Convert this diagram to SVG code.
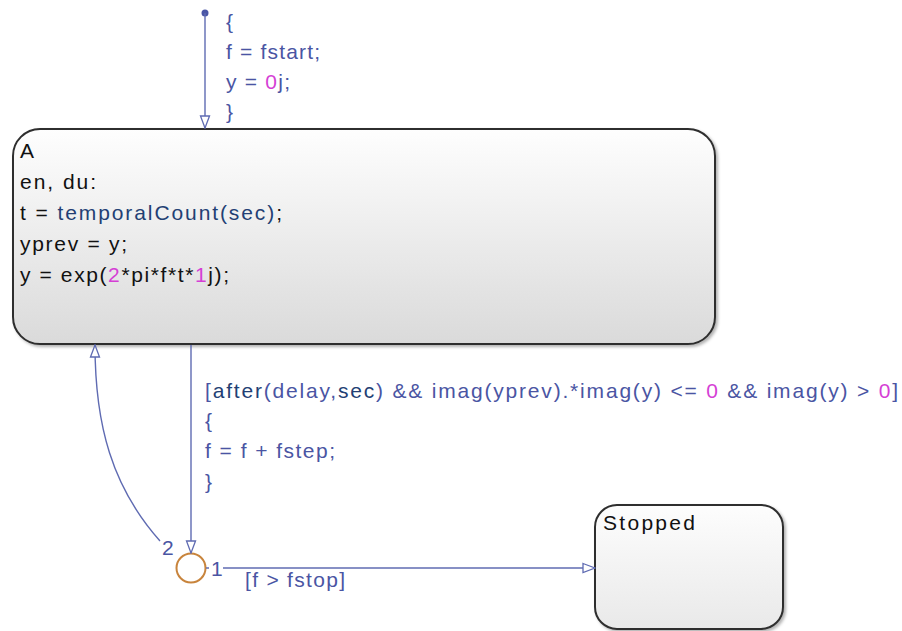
<svg xmlns="http://www.w3.org/2000/svg" width="902" height="631" viewBox="0 0 902 631">
<style>
text{font-family:"Liberation Sans",Arial,sans-serif;font-size:21px}
.st{fill:#111}
.lb{fill:#4a55a3}
.kw{fill:#233f74}
.nm{fill:#d53fd5}
.state{stroke:#2e2e2e;stroke-width:2;filter:url(#sh)}
.tr{fill:none;stroke:#5f6bb2;stroke-width:1.4}
</style>
<defs>
<linearGradient id="gA" x1="0" y1="0" x2="0" y2="1"><stop offset="0" stop-color="#fefefe"/><stop offset="1" stop-color="#dadada"/></linearGradient>
<linearGradient id="gS" x1="0" y1="0" x2="0" y2="1"><stop offset="0" stop-color="#fdfdfd"/><stop offset="1" stop-color="#e9e9e9"/></linearGradient>
<filter id="sh" x="-5%" y="-5%" width="110%" height="115%"><feDropShadow dx="2" dy="2" stdDeviation="1.5" flood-color="#000" flood-opacity="0.3"/></filter>
<marker id="ah" viewBox="0 0 14 12" refX="13" refY="6" markerWidth="14" markerHeight="12" markerUnits="userSpaceOnUse" orient="auto"><path d="M1,1.5 L13,6 L1,10.5 Z" fill="#fff" stroke="#5f6bb2" stroke-width="1.3"/></marker>
</defs>
<rect width="902" height="631" fill="#fff"/>

<g id="A">
<rect class="state" x="13" y="129" width="702" height="215" rx="27" ry="27" fill="url(#gA)"/>
<text class="st" x="20" y="158">A</text>
<text class="st" x="20" y="189" textLength="76" lengthAdjust="spacing">en, du:</text>
<text class="st" x="20" y="220" textLength="262" lengthAdjust="spacing">t = <tspan class="kw">temporalCount(sec)</tspan>;</text>
<text class="st" x="20" y="251" textLength="107" lengthAdjust="spacing">yprev = y;</text>
<text class="st" x="20" y="282" textLength="209" lengthAdjust="spacing">y = exp(<tspan class="nm">2</tspan>*pi*f*t*<tspan class="nm">1</tspan>j);</text>
</g>

<g id="Stopped">
<rect class="state" x="595" y="505" width="188" height="124" rx="22" ry="22" fill="url(#gS)"/>
<text class="st" x="603" y="530" textLength="92" lengthAdjust="spacing">Stopped</text>
</g>

<g id="junction">
<circle cx="191" cy="568" r="14.5" fill="#fff" stroke="#c8843c" stroke-width="2"/>
</g>

<g id="connectors">
<circle cx="205" cy="13" r="3.5" fill="#4a56a6"/>
<path class="tr" d="M205,13 L205,128" marker-end="url(#ah)"/>
<path class="tr" d="M191,345 L191,553" marker-end="url(#ah)"/>
<path class="tr" d="M160,541 C112,487 95,425 95,345" marker-end="url(#ah)"/>
<path class="tr" d="M206,568 L595,568" marker-end="url(#ah)"/>

<text class="lb" x="226" y="29">{</text>
<text class="lb" x="226" y="59" textLength="94" lengthAdjust="spacing">f = fstart;</text>
<text class="lb" x="226" y="89" textLength="64" lengthAdjust="spacing">y = <tspan class="nm">0</tspan>j;</text>
<text class="lb" x="226" y="119">}</text>

<text class="lb" x="205" y="398" textLength="693" lengthAdjust="spacing">[<tspan class="kw">after</tspan>(delay,<tspan class="kw">sec</tspan>) &amp;&amp; imag(yprev).*imag(y) &lt;= <tspan class="nm">0</tspan> &amp;&amp; imag(y) &gt; <tspan class="nm">0</tspan>]</text>
<text class="lb" x="205" y="428">{</text>
<text class="lb" x="205" y="458" textLength="130" lengthAdjust="spacing">f = f + fstep;</text>
<text class="lb" x="205" y="489">}</text>

<text class="lb" x="162" y="555">2</text>
<rect x="209" y="558" width="14" height="20" fill="#fff"/>
<text class="lb" x="211" y="576">1</text>
<text class="lb" x="245" y="587" textLength="100" lengthAdjust="spacing">[f &gt; fstop]</text>
</g>
</svg>
